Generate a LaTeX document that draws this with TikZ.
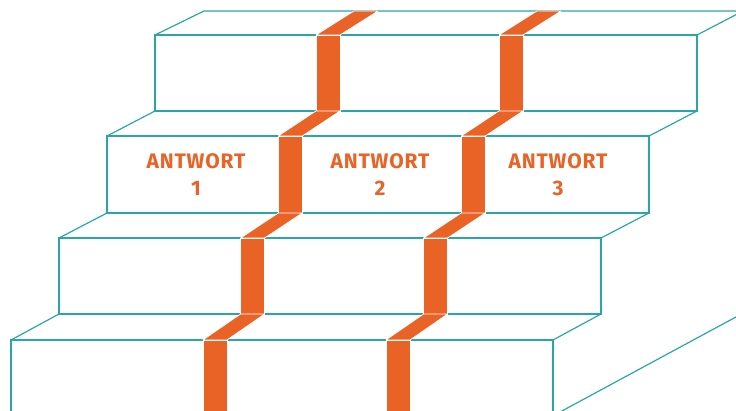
\documentclass[tikz,border=0pt]{standalone}
\usepackage{fontspec}
\newfontfamily\lab{Fira Sans}[LetterSpace=4]
\definecolor{stepteal}{HTML}{2AA6AB}
\definecolor{rib}{HTML}{E96226}
\tikzset{
  edge/.style={draw=stepteal, line width=1.2pt, line join=miter},
  ribbon/.style={fill=rib, draw=white, line width=0.7pt, line join=round},
  lbl/.style={text=rib, align=center, font=\lab\bfseries\fontsize{21}{27}\selectfont, inner sep=0pt}
}
\begin{document}
\begin{tikzpicture}[x=1pt,y=-1pt]
\useasboundingbox (0,0) rectangle (736,411);
\clip (0,0) rectangle (736,411);
% step 1 (top)
\draw[edge] (155,35) rectangle (697,111);
\draw[edge] (155,35) -- (204,11) -- (740,11);
\draw[edge] (697,35) -- (740,12.6);
% step 2
\draw[edge] (107,136) rectangle (649,213);
\draw[edge] (107,136) -- (155,111);
\draw[edge] (649,136) -- (697,111);
% step 3
\draw[edge] (59,238) rectangle (601,314);
\draw[edge] (59,238) -- (107,213);
\draw[edge] (601,238) -- (649,213);
% step 4 (bottom)
\draw[edge] (11,420) -- (11,340) -- (553,340) -- (553,420);
\draw[edge] (11,340) -- (59,314);
\draw[edge] (553,340) -- (601,314);
% side wall
\draw[edge] (556,414.2) -- (740,314.8);
% ribbons
\foreach \xo in {316,499} {
  \pgfmathsetmacro\a{\xo}
  \pgfmathsetmacro\b{\xo-37.7}
  \pgfmathsetmacro\c{\xo-75.4}
  \pgfmathsetmacro\d{\xo-113.1}
  \path[ribbon] (\a,35) -- ++(24,0) -- (\a+62,11) -- (\a+38,11) -- cycle;
  \path[ribbon] (\a,35) rectangle (\a+24,111);
  \path[ribbon] (\b,136) -- ++(24,0) -- (\a+24,111) -- (\a,111) -- cycle;
  \path[ribbon] (\b,136) rectangle (\b+24,213);
  \path[ribbon] (\c,238) -- ++(24,0) -- (\b+24,213) -- (\b,213) -- cycle;
  \path[ribbon] (\c,238) rectangle (\c+24,314);
  \path[ribbon] (\d,340) -- ++(24,0) -- (\c+24,314) -- (\c,314) -- cycle;
  \path[ribbon] (\d,340) rectangle (\d+24,420);
}
% labels
\node[lbl] (a1) at (196,175) {ANTWORT\\1};
\node[lbl] (a2) at (380,175) {ANTWORT\\2};
\node[lbl] (a3) at (558,175) {ANTWORT\\3};
\end{tikzpicture}
\end{document}
